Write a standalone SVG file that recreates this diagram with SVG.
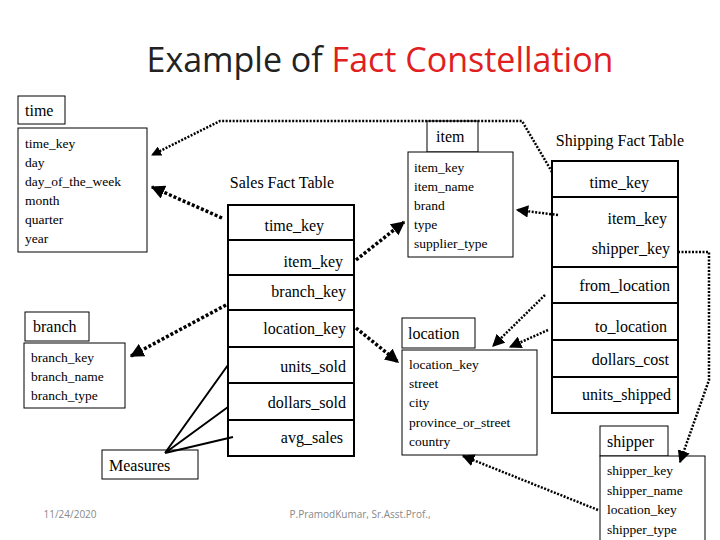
<svg xmlns="http://www.w3.org/2000/svg" width="720" height="540" viewBox="0 0 720 540" font-family="Liberation Serif, Times New Roman, serif">
<style>
.t{font-size:13.5px;fill:#000}
.h{font-size:16px;fill:#000}
.b{fill:#fff;stroke:#000;stroke-width:1}
.f{fill:#fff;stroke:#000;stroke-width:2}
.d{fill:none;stroke:#000;stroke-width:3.5;stroke-dasharray:3 2}
.d2{fill:none;stroke:#000;stroke-width:2.5;stroke-dasharray:2 1.5}
.m{stroke:#000;stroke-width:2}
.foot{font-size:10px;fill:#888}
</style>
<defs>
<marker id="ah" viewBox="0 0 10 10" refX="9" refY="5" markerWidth="4" markerHeight="4" orient="auto" markerUnits="strokeWidth"><path d="M0,0L10,5L0,10z" fill="#000"/></marker>
<marker id="ah2" viewBox="0 0 10 10" refX="9" refY="5" markerWidth="5" markerHeight="5" orient="auto" markerUnits="strokeWidth"><path d="M0,0L10,5L0,10z" fill="#000"/></marker>
</defs>
<rect width="720" height="540" fill="#fff"/>
<text x="380" y="72" text-anchor="middle" font-family="Open Sans, Liberation Sans, sans-serif" font-size="34" fill="#222">Example of <tspan fill="#e02020">Fact Constellation</tspan></text>

<g id="time">
<rect class="b" x="18" y="96" width="47" height="28"/><text class="h" x="25" y="116">time</text>
<rect class="b" x="18" y="128" width="129" height="124"/>
<text class="t" x="25" y="148">time_key</text><text class="t" x="25" y="167">day</text><text class="t" x="25" y="186">day_of_the_week</text><text class="t" x="25" y="205">month</text><text class="t" x="25" y="224">quarter</text><text class="t" x="25" y="243">year</text>
</g>
<g id="item">
<rect class="b" x="427" y="121" width="51" height="31"/><text class="h" x="436" y="142">item</text>
<rect class="b" x="408" y="152" width="105" height="105"/>
<text class="t" x="414" y="172">item_key</text><text class="t" x="414" y="191">item_name</text><text class="t" x="414" y="210">brand</text><text class="t" x="414" y="229">type</text><text class="t" x="414" y="248">supplier_type</text>
</g>
<g id="branch">
<rect class="b" x="25" y="312" width="64" height="29"/><text class="h" x="33" y="332">branch</text>
<rect class="b" x="24" y="343" width="101" height="65"/>
<text class="t" x="31" y="362">branch_key</text><text class="t" x="31" y="381">branch_name</text><text class="t" x="31" y="400">branch_type</text>
</g>
<g id="location">
<rect class="b" x="402" y="318" width="73" height="30"/><text class="h" x="408" y="339">location</text>
<rect class="b" x="402" y="350" width="135" height="105"/>
<text class="t" x="409" y="369">location_key</text><text class="t" x="409" y="388">street</text><text class="t" x="409" y="407">city</text><text class="t" x="409" y="427">province_or_street</text><text class="t" x="409" y="446">country</text>
</g>
<g id="shipper">
<rect class="b" x="600" y="426" width="68" height="30"/><text class="h" x="607" y="447">shipper</text>
<rect class="b" x="600" y="456" width="105" height="86"/>
<text class="t" x="607" y="475">shipper_key</text><text class="t" x="607" y="495">shipper_name</text><text class="t" x="607" y="514">location_key</text><text class="t" x="607" y="534">shipper_type</text>
</g>
<g id="sales">
<text class="h" x="282" y="188" text-anchor="middle">Sales Fact Table</text>
<rect class="f" x="228" y="205" width="126" height="251"/>
<path class="m" d="M228,240H354M228,275H354M228,310H354M228,347H354M228,383H354M228,420H354"/>
<text class="h" x="324" y="231" text-anchor="end">time_key</text><text class="h" x="343" y="267" text-anchor="end">item_key</text><text class="h" x="346" y="297" text-anchor="end">branch_key</text><text class="h" x="346" y="334" text-anchor="end">location_key</text><text class="h" x="346" y="372" text-anchor="end">units_sold</text><text class="h" x="346" y="408" text-anchor="end">dollars_sold</text><text class="h" x="343" y="443" text-anchor="end">avg_sales</text>
</g>
<g id="shipping">
<text class="h" x="620" y="146" text-anchor="middle">Shipping Fact Table</text>
<rect class="f" x="552" y="161" width="126" height="252"/>
<path class="m" d="M552,197H678M552,267H678M552,303H678M552,340H678M552,377H678"/>
<text class="h" x="649" y="188" text-anchor="end">time_key</text><text class="h" x="667" y="224" text-anchor="end">item_key</text><text class="h" x="670" y="254" text-anchor="end">shipper_key</text><text class="h" x="670" y="291" text-anchor="end">from_location</text><text class="h" x="667" y="332" text-anchor="end">to_location</text><text class="h" x="669" y="365" text-anchor="end">dollars_cost</text><text class="h" x="671" y="400" text-anchor="end">units_shipped</text>
</g>
<g id="measures">
<rect class="b" x="102" y="450" width="96" height="29"/><text class="h" x="109" y="471">Measures</text>
</g>
<g id="connectors">
<path class="d2" d="M552,172L522,121H220L152,155" marker-end="url(#ah)"/>
<path class="d" d="M222,218L152,187" marker-end="url(#ah)"/>
<path class="d" d="M226,305L131,356" marker-end="url(#ah)"/>
<path class="d" d="M356,260L404,222" marker-end="url(#ah)"/>
<path class="d2" d="M558,215L517,210" marker-end="url(#ah2)"/>
<path class="d" d="M356,328L398,362" marker-end="url(#ah)"/>
<path class="d2" d="M545,295L493,346" marker-end="url(#ah2)"/>
<path class="d2" d="M548,330L510,347" marker-end="url(#ah2)"/>
<path class="d2" d="M598,510L463,456" marker-end="url(#ah2)"/>
<path class="d2" d="M678,252H709V380L680,462" marker-end="url(#ah2)"/>
<path class="m" d="M165,453L228,365M165,453L228,407M165,453L233,437"/>
</g>
<g font-family="Open Sans, sans-serif">
<text class="foot" x="70" y="518" text-anchor="middle">11/24/2020</text>
<text class="foot" x="360" y="518" text-anchor="middle">P.PramodKumar, Sr.Asst.Prof.,</text>
</g>
</svg>
